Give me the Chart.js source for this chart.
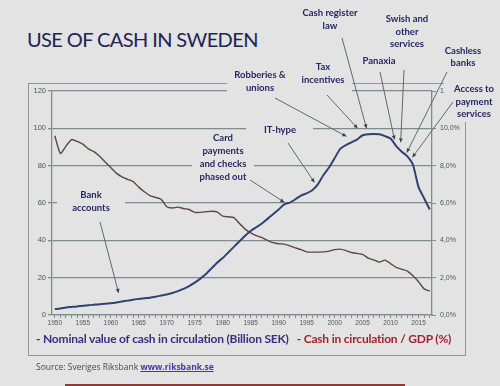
<!DOCTYPE html>
<html>
<head>
<meta charset="utf-8">
<script src="https://cdn.jsdelivr.net/npm/chart.js@4"></script>
<style>
  html, body { margin: 0; padding: 0; background: #e2e3e2; }
  #page { position: relative; width: 500px; height: 386px; overflow: hidden; background: #e2e3e2; }
  #title { position: absolute; left: 27px; top: 27px; font: 20px Lato, sans-serif; letter-spacing: -0.6px; color: #1c2455; white-space: nowrap; }
  #frame { position: absolute; left: 28px; top: 83px; width: 436px; height: 271px; border: 1.5px solid #8e9899; }
  #wrap { position: absolute; left: 0; top: 0; width: 500px; height: 386px; }
  #legend { position: absolute; left: 36px; top: 331px; font: bold 12px Lato, sans-serif; letter-spacing: -0.2px; white-space: nowrap; }
  #legend .a { color: #3b2f7c; }
  #legend .b { color: #a2222f; margin-left: 8px; }
  #source { position: absolute; left: 36px; top: 361px; font: 8.5px "Open Sans", sans-serif; color: #4a4a4a; white-space: nowrap; }
  #source a { color: #4636a8; text-decoration: underline; font-weight: bold; }
  #bar { position: absolute; left: 65px; top: 384px; width: 340px; height: 2px; background: #8c3b3b; }
</style>
</head>
<body>
<div id="page">
  <div id="title">USE OF CASH IN SWEDEN</div>
  <div id="frame"></div>
  <div id="wrap"><canvas id="cashChart" width="500" height="386"></canvas></div>
  <div id="legend"><span class="a">- Nominal value of cash in circulation (Billion SEK)</span><span class="b">- Cash in circulation / GDP (%)</span></div>
  <div id="source">Source: Sveriges Riksbank <a>www.riksbank.se</a></div>
  <div id="bar"></div>
</div>
<script>
// Năm 1950-2017
const years = [];
for (let y = 1950; y <= 2017; y++) years.push(y);

// Kontanter i omlopp, miljarder SEK
const cashBn = [
  3.2, 3.5, 4.0, 4.3, 4.6, 5.0, 5.2, 5.5, 5.8, 6.0,
  6.3, 6.7, 7.2, 7.7, 8.2, 8.6, 9.0, 9.3, 9.8, 10.4,
  11.0, 11.8, 12.8, 14.0, 15.5, 17.3, 19.5, 22.0, 25.0, 28.0,
  30.5, 33.5, 36.5, 39.5, 42.5, 45.0, 47.0, 49.0, 51.5, 54.0,
  56.5, 59.3, 60.2, 62.0, 64.0, 65.2, 66.8, 70.0, 75.0, 79.0,
  84.0, 89.0, 91.0, 92.5, 94.0, 96.3, 96.8, 96.9, 96.8, 95.8,
  94.5, 90.5, 87.5, 85.0, 80.5, 68.5, 62.5, 56.5
];

// Kontanter / BNP, %
const cashGdp = [
  9.60, 8.65, 9.05, 9.40, 9.30, 9.15, 8.90, 8.75, 8.50, 8.20,
  7.90, 7.60, 7.40, 7.27, 7.15, 6.85, 6.60, 6.40, 6.30, 6.20,
  5.80, 5.73, 5.78, 5.70, 5.65, 5.50, 5.50, 5.53, 5.56, 5.53,
  5.30, 5.26, 5.22, 4.90, 4.60, 4.40, 4.25, 4.15, 4.00, 3.88,
  3.82, 3.80, 3.70, 3.60, 3.50, 3.38, 3.37, 3.37, 3.38, 3.42,
  3.50, 3.53, 3.45, 3.35, 3.30, 3.25, 3.05, 2.95, 2.83, 2.94,
  2.75, 2.55, 2.45, 2.35, 2.10, 1.78, 1.40, 1.28
];

const leftTicks = [0, 20, 40, 60, 80, 100, 120];
const rightTicks = [0, 2, 4, 6, 8, 10, 12];

// Chú thích: chữ, điểm bắt đầu mũi tên, đích (năm, giá trị trục trái)
const notes = [
  { lines: ['Bank', 'accounts'], cx: 91, cy: 195, lh: 13, box: [57, 186, 125, 216], from: [100, 222], to: [1961.4, 11.8] },
  { lines: ['Card', 'payments', 'and checks', 'phased out'], cx: 223, cy: 138, lh: 13, box: [192, 130, 254, 184], from: [250, 180], to: [1991, 60.4] },
  { lines: ['IT-hype'], cx: 280, cy: 130, lh: 13, box: [246, 122, 313, 138], from: [288, 143], to: [1996.4, 71] },
  { lines: ['Robberies &', 'unions'], cx: 260, cy: 75, lh: 12.5, box: [227, 66, 294, 95], from: [275, 98], to: [2002.1, 95.7] },
  { lines: ['Tax', 'incentives'], cx: 323, cy: 67, lh: 13, box: [294, 58, 352, 95], from: [327, 95], to: [2004.1, 100] },
  { lines: ['Cash register', 'law'], cx: 330, cy: 13, lh: 13, box: [300, 4, 360, 33], from: [342, 38], to: [2005.7, 100] },
  { lines: ['Panaxia'], cx: 379, cy: 61, lh: 13, box: [358, 53, 400, 69], from: [380, 72], to: [2010.7, 94] },
  { lines: ['Swish and', 'other', 'services'], cx: 407, cy: 19, lh: 12.5, box: [382, 10, 432, 52], from: [404, 70], to: [2011.8, 92.5] },
  { lines: ['Cashless', 'banks'], cx: 463, cy: 51, lh: 12, box: [440, 43, 488, 70], from: [447, 72], to: [2012.9, 87] },
  { lines: ['Access to', 'payment', 'services'], cx: 474, cy: 89, lh: 12.5, box: [444, 80, 500, 122], from: [453, 102], to: [2013.9, 84.5] }
];

const gridColor = '#7f8c8e';
const tickColor = '#50565a';
const bg = '#e2e3e2';

const notesPlugin = {
  id: 'notes',
  afterDraw(chart) {
    const ctx = chart.ctx;
    const sx = chart.scales.x, sy = chart.scales.y;
    ctx.save();
    notes.forEach(n => {
      ctx.fillStyle = bg;
      ctx.fillRect(n.box[0], n.box[1], n.box[2] - n.box[0], n.box[3] - n.box[1]);
    });
    notes.forEach(n => {
      ctx.fillStyle = '#2a2562';
      ctx.font = 'bold 9.5px Lato, sans-serif';
      ctx.textAlign = 'center';
      ctx.textBaseline = 'middle';
      n.lines.forEach((t, i) => ctx.fillText(t, n.cx, n.cy + i * n.lh));

      const x0 = n.from[0], y0 = n.from[1];
      const x1 = sx.getPixelForValue(n.to[0]);
      const y1 = sy.getPixelForValue(n.to[1]);
      ctx.strokeStyle = '#5d686e';
      ctx.lineWidth = 1;
      ctx.beginPath();
      ctx.moveTo(x0, y0);
      ctx.lineTo(x1, y1);
      ctx.stroke();
      const a = Math.atan2(y1 - y0, x1 - x0);
      ctx.fillStyle = '#3a4150';
      ctx.beginPath();
      ctx.moveTo(x1, y1);
      ctx.lineTo(x1 - 4.5 * Math.cos(a - 0.45), y1 - 4.5 * Math.sin(a - 0.45));
      ctx.lineTo(x1 - 4.5 * Math.cos(a + 0.45), y1 - 4.5 * Math.sin(a + 0.45));
      ctx.closePath();
      ctx.fill();
    });
    ctx.restore();
  }
};

new Chart(document.getElementById('cashChart'), {
  type: 'line',
  data: {
    datasets: [{
      label: 'Nominal value of cash in circulation (Billion SEK)',
      data: years.map((y, i) => ({ x: y, y: cashBn[i] })),
      yAxisID: 'y',
      borderColor: '#2f4372',
      borderWidth: 2,
      pointRadius: 0,
      tension: 0.2
    }, {
      label: 'Cash in circulation / GDP (%)',
      data: years.map((y, i) => ({ x: y, y: cashGdp[i] })),
      yAxisID: 'y2',
      borderColor: '#5e4646',
      borderWidth: 1.4,
      pointRadius: 0,
      tension: 0.2
    }]
  },
  options: {
    responsive: false,
    animation: false,
    layout: { padding: { left: 28, right: 35, top: 91, bottom: 53 } },
    plugins: { legend: { display: false }, tooltip: { enabled: false } },
    scales: {
      x: {
        type: 'linear', min: 1949.5, max: 2017.4,
        afterBuildTicks: s => { s.ticks = years.map(v => ({ value: v })); },
        afterFit: s => { s.height = 18; },
        ticks: {
          autoSkip: false, maxRotation: 0, color: tickColor, padding: 1,
          font: { size: 6.5, family: 'Liberation Sans' },
          callback: v => (v % 5 === 0 ? String(v) : '')
        },
        grid: { drawOnChartArea: false, tickLength: 3, color: gridColor },
        border: { color: gridColor, width: 1.3 }
      },
      y: {
        position: 'left', min: 0, max: 120,
        afterBuildTicks: s => { s.ticks = leftTicks.map(v => ({ value: v })); },
        afterFit: s => { s.width = 24; },
        ticks: { color: tickColor, padding: 2, font: { size: 7.5, family: 'Liberation Sans' } },
        grid: { color: gridColor, lineWidth: 1.3, tickLength: 4 },
        border: { color: gridColor, width: 1.3 }
      },
      y2: {
        position: 'right', min: 0, max: 12,
        afterBuildTicks: s => { s.ticks = rightTicks.map(v => ({ value: v })); },
        afterFit: s => { s.width = 33; },
        ticks: {
          color: tickColor, padding: 4, font: { size: 7, family: 'Liberation Sans' },
          callback: v => v.toFixed(1).replace('.', ',') + '%'
        },
        grid: { drawOnChartArea: false, tickLength: 4, color: gridColor },
        border: { color: gridColor, width: 1.3 }
      }
    }
  },
  plugins: [notesPlugin]
});
</script>
</body>
</html>
